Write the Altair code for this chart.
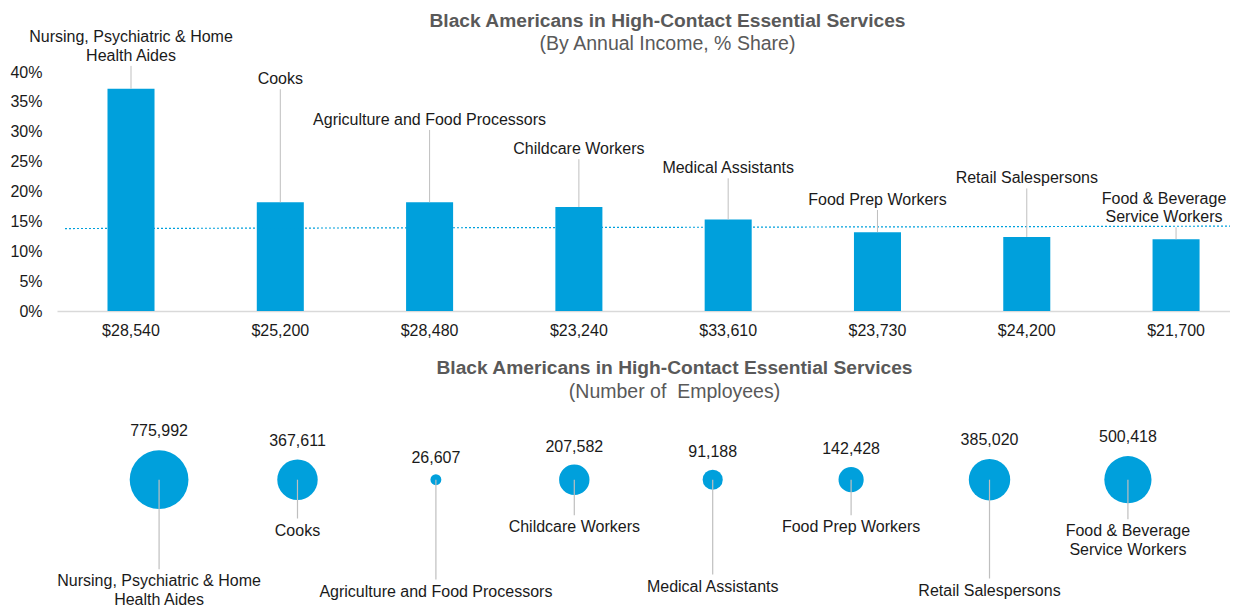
import math
import altair as alt
import pandas as pd

# ---------------- data ----------------
occupations = [
    "Nursing, Psychiatric & Home\nHealth Aides",
    "Cooks",
    "Agriculture and Food Processors",
    "Childcare Workers",
    "Medical Assistants",
    "Food Prep Workers",
    "Retail Salespersons",
    "Food & Beverage\nService Workers",
]
incomes = ["$28,540", "$25,200", "$28,480", "$23,240", "$33,610", "$23,730", "$24,200", "$21,700"]
share_pct = [37.2, 18.2, 18.2, 17.4, 15.3, 13.2, 12.4, 12.0]
employees = [775992, 367611, 26607, 207582, 91188, 142428, 385020, 500418]
reference_pct = [13.8, 14.2]  # dotted reference line (left end, right end)
y_ticks = [0, 5, 10, 15, 20, 25, 30, 35, 40]

# annotation placement (label heights in the units of each panel)
bar_label_level = [45.9, 38.9, 32.1, 27.2, 24.0, 18.7, 22.3, 18.9]      # % axis units
bubble_label_depth = [170.7, 120.0, 181.0, 116.7, 176.0, 116.7, 180.0, 120.7]  # px below panel top

# ---------------- styling constants ----------------
FONT = "Liberation Sans"
BLUE = "#00a0dc"
LEADER = "#bfbfbf"
TXT = "#1a1a1a"
TITLE_C = "#595959"
W = 1173
H_TOP = 239
H_BOT = 190
PX_PER_PCT = H_TOP / 40.0
LINE_H = 18.5
ROW_DEPTH = 69.7
R_MAX = 33.15
MAX_EMP = max(employees)

nlines = [o.count("\n") + 1 for o in occupations]

top_df = pd.DataFrame({
    "occupation": occupations,
    "income": incomes,
    "share": share_pct,
    "level": bar_label_level,
    "leader_top": [lv - ((n - 1) * LINE_H + 10.7) / PX_PER_PCT for lv, n in zip(bar_label_level, nlines)],
    "edge": [i == len(occupations) - 1 for i in range(len(occupations))],
})
ref_df = pd.DataFrame({"y1": [reference_pct[0]], "y2": [reference_pct[1]]})

bot_df = pd.DataFrame({
    "occupation": occupations,
    "employees": employees,
    "row": [ROW_DEPTH] * len(occupations),
    "label_depth": bubble_label_depth,
})

# ---------------- top panel ----------------
x_scale_top = alt.Scale(paddingInner=0.685, paddingOuter=0.271, align=0.624)
x_axis_top = alt.Axis(title=None, labelAngle=0, ticks=False, tickSize=0, labelPadding=11,
                      domainColor="#d9d9d9", domainWidth=1.5, labelFontSize=16,
                      labelColor=TXT, labelFont=FONT)
y_scale_top = alt.Scale(domain=[0, 40], nice=False)
y_axis_top = alt.Axis(title=None, values=y_ticks, tickCount=len(y_ticks), labelExpr="datum.value + '%'",
                      grid=False, domain=False, ticks=False, tickSize=0, labelPadding=15,
                      labelOverlap=False, labelFontSize=16, labelColor=TXT, labelFont=FONT)


def xt():
    return alt.X("income:N", sort=incomes, scale=x_scale_top, axis=x_axis_top)


def yt(field):
    return alt.Y(field, scale=y_scale_top, axis=y_axis_top)


base_top = alt.Chart(top_df)
bars = base_top.mark_bar(color=BLUE).encode(x=xt(), y=yt("share:Q"))
ref_line = alt.Chart(ref_df).mark_rule(color=BLUE, strokeDash=[2, 2], strokeWidth=1.2).encode(
    x=alt.value(8), x2=alt.value(W), y=yt("y1:Q"), y2="y2:Q"
)
leaders_top = base_top.mark_rule(color=LEADER, strokeWidth=1).encode(
    x=xt(), y=yt("share:Q"), y2="leader_top:Q"
)
label_style = dict(baseline="top", dy=-7.3, fontSize=16, lineBreak="\n", lineHeight=LINE_H, color=TXT, font=FONT)
labels_top = base_top.transform_filter("!datum.edge").mark_text(**label_style).encode(
    x=xt(), y=yt("level:Q"), text="occupation:N"
)
labels_top_edge = base_top.transform_filter("datum.edge").mark_text(dx=-12, **label_style).encode(
    x=xt(), y=yt("level:Q"), text="occupation:N"
)

top = alt.layer(bars, ref_line, leaders_top, labels_top, labels_top_edge).properties(
    width=W, height=H_TOP,
    title=alt.TitleParams(
        text="Black Americans in High-Contact Essential Services",
        subtitle="(By Annual Income, % Share)",
        anchor="middle", frame="group", dx=24, offset=-24,
        font=FONT, fontSize=19.2, fontWeight="bold", color=TITLE_C,
        subtitleFont=FONT, subtitleFontSize=19.5, subtitleColor=TITLE_C, subtitlePadding=4,
    ),
)

# ---------------- bottom panel ----------------
x_bot = alt.X("occupation:N", sort=occupations, scale=alt.Scale(type="point", padding=0.7376), axis=None)
y_scale_bot = alt.Scale(domain=[0, H_BOT], reverse=True, nice=False)

base_bot = alt.Chart(bot_df).transform_calculate(
    r=f"sqrt(datum.employees / {MAX_EMP}) * {R_MAX}"
).transform_calculate(
    value_y="datum.row - datum.r - 16",
    text_y="datum.label_depth - 7.3",
    leader_end="datum.label_depth - 11.5",
)

bubbles = base_bot.mark_circle(color=BLUE, opacity=1).encode(
    x=x_bot,
    y=alt.Y("row:Q", scale=y_scale_bot, axis=None),
    size=alt.Size("employees:Q", scale=alt.Scale(domain=[0, MAX_EMP], range=[0, math.pi * R_MAX ** 2]), legend=None),
)
leaders_bot = base_bot.mark_rule(color=LEADER, strokeWidth=1.2).encode(
    x=x_bot, y=alt.Y("row:Q", scale=y_scale_bot, axis=None), y2="leader_end:Q"
)
value_labels = base_bot.mark_text(baseline="middle", fontSize=16, color=TXT, font=FONT).encode(
    x=x_bot, y=alt.Y("value_y:Q", scale=y_scale_bot, axis=None),
    text=alt.Text("employees:Q", format=","),
)
name_labels = base_bot.mark_text(
    baseline="top", fontSize=16, lineBreak="\n", lineHeight=LINE_H, color=TXT, font=FONT
).encode(x=x_bot, y=alt.Y("text_y:Q", scale=y_scale_bot, axis=None), text="occupation:N")

bottom = alt.layer(bubbles, leaders_bot, value_labels, name_labels).properties(
    width=W, height=H_BOT,
    title=alt.TitleParams(
        text="Black Americans in High-Contact Essential Services",
        subtitle="(Number of\u00a0 Employees)",
        anchor="middle", frame="group", dx=31, offset=9,
        font=FONT, fontSize=19.2, fontWeight="bold", color=TITLE_C,
        subtitleFont=FONT, subtitleFontSize=19.5, subtitleColor=TITLE_C, subtitlePadding=4,
    ),
)

chart = alt.vconcat(top, bottom, spacing=99, bounds="flush").properties(
    padding={"left": 1, "top": 3, "right": -1, "bottom": 0}
).configure(font=FONT).configure_view(stroke=None)

chart.save("out.html", embed_options={"renderer": "svg", "actions": False})
